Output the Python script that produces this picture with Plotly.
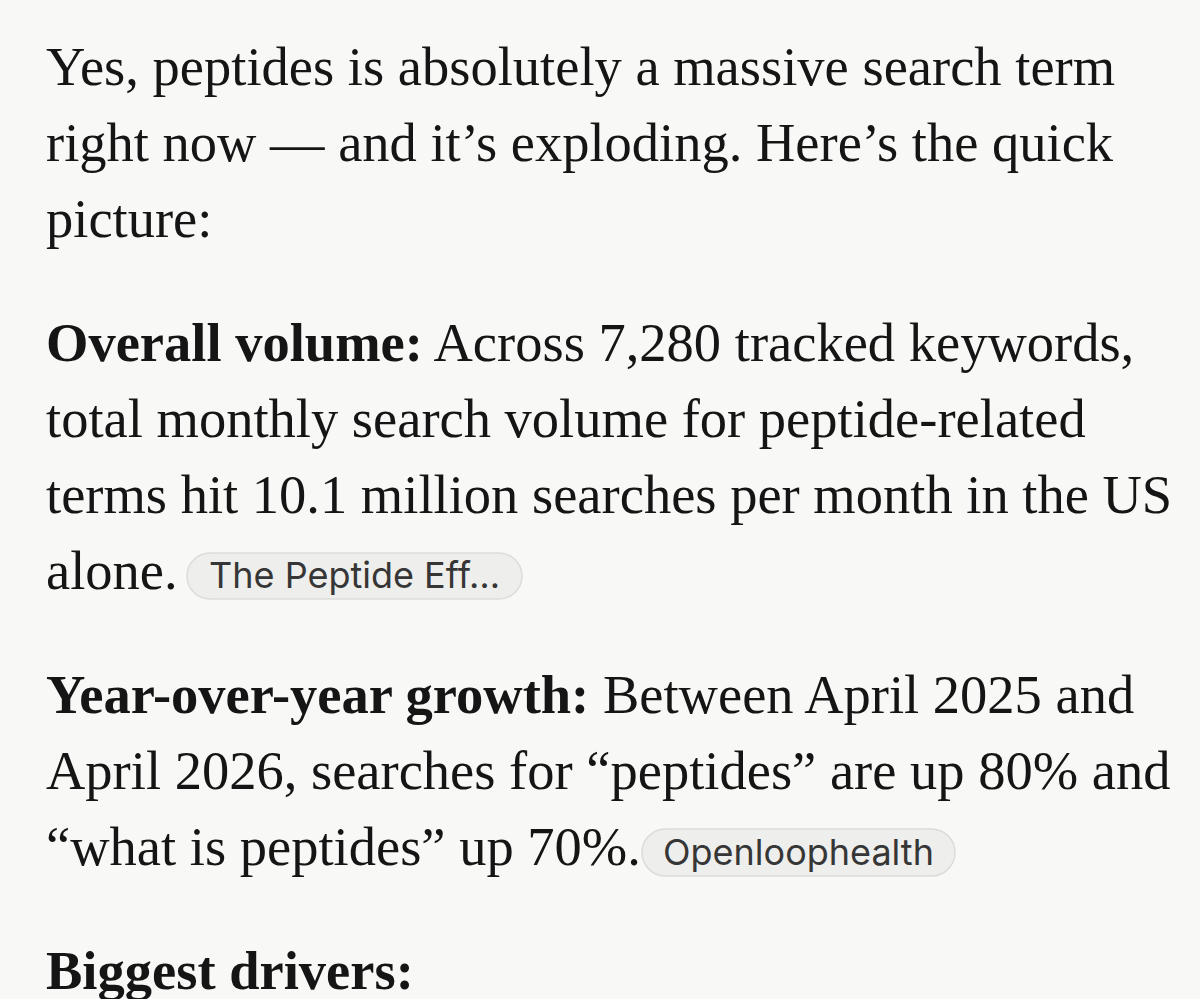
import plotly.graph_objects as go

# ---- content (text data) ----
para_leads = ["", "Overall volume:", "Year-over-year growth:", "Biggest drivers:"]
para_lines = [
    ["Yes, peptides is absolutely a massive search term",
     "right now — and it’s exploding. Here’s the quick",
     "picture:"],
    [" Across 7,280 tracked keywords,",
     "total monthly search volume for peptide-related",
     "terms hit 10.1 million searches per month in the US",
     "alone."],
    [" Between April 2025 and",
     "April 2026, searches for “peptides” are up 80% and",
     "“what is peptides” up 70%."],
    [""],
]
chip_labels = ["The Peptide Eff…", "Openloophealth"]

# ---- style / layout ----
W, H = 1200, 999
BG = "#f8f8f6"
INK = "#151515"
SERIF = "Liberation Serif"
SANS = "Inter"
FS = 54.5
LEFT = 45
FIRST_BASE = 84
STEP = 76
PGAP = 48
MID_OFF = 18  # baseline -> visual middle of the text box

chip_boxes = [(187, 553, 522, 599), (642, 829, 955, 876)]

fig = go.Figure()
annotations = []
shapes = []

base = FIRST_BASE
for p, lines in enumerate(para_lines):
    for i, line in enumerate(lines):
        txt = line
        if i == 0 and para_leads[p]:
            txt = "<b>" + para_leads[p] + "</b>" + line
        annotations.append(dict(
            x=LEFT, y=base - MID_OFF, xref="x", yref="y",
            text=txt, showarrow=False, xanchor="left", yanchor="middle",
            font=dict(family=SERIF, size=FS, color=INK), borderpad=0))
        base += STEP
    base += PGAP


def pill(x0, y0, x1, y1):
    r = (y1 - y0) / 2
    k = 0.5523 * r
    return (f"M {x0 + r},{y0} L {x1 - r},{y0} "
            f"C {x1 - r + k},{y0} {x1},{y0 + r - k} {x1},{y0 + r} "
            f"C {x1},{y0 + r + k} {x1 - r + k},{y1} {x1 - r},{y1} "
            f"L {x0 + r},{y1} "
            f"C {x0 + r - k},{y1} {x0},{y0 + r + k} {x0},{y0 + r} "
            f"C {x0},{y0 + r - k} {x0 + r - k},{y0} {x0 + r},{y0} Z")


for label, (x0, y0, x1, y1) in zip(chip_labels, chip_boxes):
    shapes.append(dict(type="path", xref="x", yref="y", path=pill(x0, y0, x1, y1),
                       fillcolor="#eeeeec", line=dict(color="#dcdcda", width=1.5),
                       layer="below"))
    annotations.append(dict(
        x=(x0 + x1) / 2, y=(y0 + y1) / 2 - 1, xref="x", yref="y", text=label,
        showarrow=False, xanchor="center", yanchor="middle",
        font=dict(family=SANS, size=36, color="#363636"), borderpad=0))

fig.update_layout(
    width=W, height=H,
    margin=dict(l=0, r=0, t=0, b=0),
    paper_bgcolor=BG, plot_bgcolor=BG,
    xaxis=dict(range=[0, W], visible=False, fixedrange=True),
    yaxis=dict(range=[H, 0], visible=False, fixedrange=True),
    annotations=annotations, shapes=shapes,
    showlegend=False,
)

fig.write_html(
    "out.html",
    config={"displayModeBar": False},
    post_script="document.body.style.margin='0';document.body.style.overflow='hidden';"
                "document.body.style.background='" + BG + "';",
)
